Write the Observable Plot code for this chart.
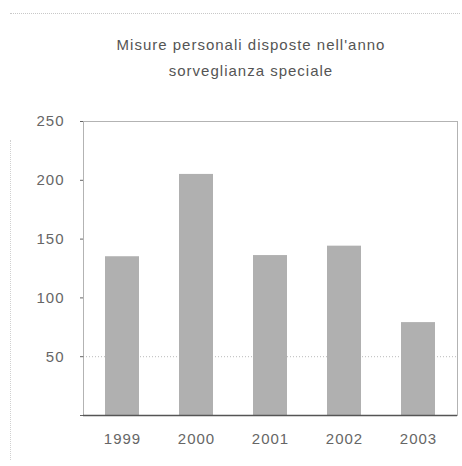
<!DOCTYPE html>
<html><head><meta charset="utf-8">
<script src="https://cdn.jsdelivr.net/npm/d3@7"></script>
<script src="https://cdn.jsdelivr.net/npm/@observablehq/plot@0.6"></script>
<style>
body{margin:0;background:#fff;font-family:"Liberation Sans",Arial,sans-serif;}
#wrap{position:relative;width:462px;height:466px;overflow:hidden;}
#title{height:95px;box-sizing:border-box;padding-top:32px;padding-left:40px;text-align:center;color:#555;font-size:15px;line-height:26px;letter-spacing:1px;}
#topline{position:absolute;left:10px;top:13px;width:450px;border-top:1px dotted #c8c8c8;}
#leftline{position:absolute;left:10px;top:140px;height:320px;border-left:1px dotted #d0d0d0;}
svg text{letter-spacing:1px;}
</style></head>
<body><div id="wrap"><div id="topline"></div><div id="leftline"></div>
<div id="title">Misure personali disposte nell'anno<br>sorveglianza speciale</div>
<div id="chart"></div></div>
<script>
const years = ["1999","2000","2001","2002","2003"];
const values = [135, 205, 136, 144, 79];
const yTicks = [0, 50, 100, 150, 200, 250];
const yTickLabels = ["", "50", "100", "150", "200", "250"];

const data = years.map((y, i) => ({year: y, value: values[i]}));

const plot = Plot.plot({
  width: 462,
  height: 371,
  marginTop: 26,
  marginBottom: 51,
  marginLeft: 83,
  marginRight: 5,
  style: {fontFamily: "Liberation Sans, Arial, sans-serif", fontSize: "15px", color: "#666", background: "transparent"},
  x: {domain: years, paddingInner: 0.54, paddingOuter: 0.27, label: null, tickSize: 0, tickPadding: 18},
  y: {domain: [0, 250], ticks: yTicks, tickFormat: (d) => yTickLabels[yTicks.indexOf(d)], label: null, tickSize: 3, tickPadding: 16},
  marks: [
    Plot.ruleY([50], {stroke: "#bbb", strokeDasharray: "1,2"}),
    Plot.barY(data, {x: "year", y: "value", fill: "#b0b0b0"}),
    Plot.frame({stroke: "#666", strokeDasharray: "1,1"}),
    Plot.ruleX([0], {frameAnchor: "left", stroke: "#444", strokeWidth: 1.3}),
    Plot.ruleY([0], {stroke: "#555", strokeWidth: 1.3})
  ]
});
document.getElementById("chart").appendChild(plot);
</script>
</body></html>
